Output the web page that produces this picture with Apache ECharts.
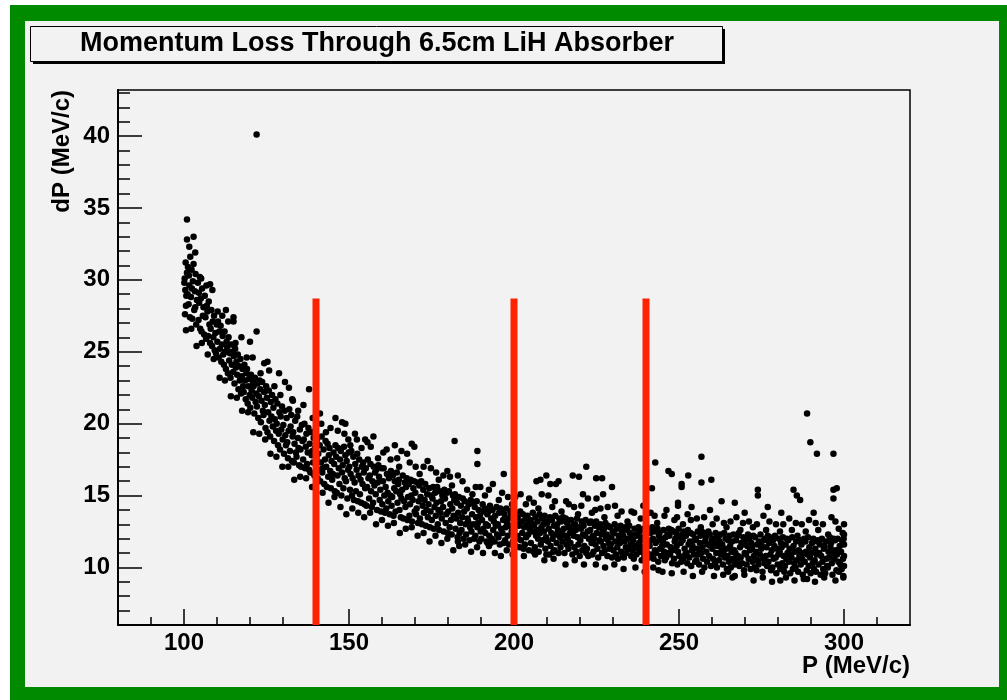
<!DOCTYPE html>
<html>
<head>
<meta charset="utf-8">
<script src="https://cdn.jsdelivr.net/npm/echarts@6/dist/echarts.min.js"></script>
<style>
html,body{margin:0;padding:0;background:#fff;}
#chart{width:1007px;height:700px;}
</style>
</head>
<body>
<div id="chart"></div>
<script>
// ---- data ----
const titleText = 'Momentum Loss Through 6.5cm LiH Absorber';
const xTitle = 'P (MeV/c)';
const yTitle = 'dP (MeV/c)';
const xRange = [80, 320];
const yRange = [6, 43.2];
const xMajorTicks = [100, 150, 200, 250, 300];
const xMinorTicks = [90, 110, 120, 130, 140, 160, 170, 180, 190, 210, 220, 230, 240, 260, 270, 280, 290, 310];
const yMajorTicks = [10, 15, 20, 25, 30, 35, 40];
const yMinorTicks = [7, 8, 9, 11, 12, 13, 14, 16, 17, 18, 19, 21, 22, 23, 24, 26, 27, 28, 29, 31, 32, 33, 34, 36, 37, 38, 39, 41, 42, 43];
const cutValues = [140, 200, 240];
const cutTop = 28.7;

const pts100to140 = [
[100.1,29.8],[100.3,27.6],[100.5,31.2],[100.7,28.9],[100.9,30.5],[100.2,30.1],[100.4,29.3],[100.6,28.2],
[101.2,30.9],[101.4,28.3],[101.6,29.6],[101.8,27.4],[101.9,31.6],[101.1,29.0],[101.5,30.3],
[102.1,28.8],[102.3,30.7],[102.5,27.3],[102.7,29.9],[102.9,31.1],[102.4,29.4],
[103.1,27.9],[103.3,29.2],[103.5,30.4],[103.7,26.9],[103.9,28.6],[103.4,28.1],
[104.2,29.8],[104.4,27.2],[104.6,28.4],[104.8,30.2],[104.9,26.6],[104.5,29.1],
[105.1,28.7],[105.3,26.4],[105.5,29.4],[105.7,27.5],[105.9,28.1],
[106.1,26.2],[106.3,28.9],[106.5,27.4],[106.7,25.9],[106.9,28.2],
[107.1,27.8],[107.3,26.1],[107.5,28.5],[107.7,26.9],[107.9,25.6],
[108.1,26.6],[108.3,27.9],[108.5,25.4],[108.7,27.1],[108.9,26.0],
[109.1,27.5],[109.3,25.1],[109.5,26.3],[109.7,24.9],[109.9,26.9],
[110.1,25.7],[110.3,27.1],[110.5,24.6],[110.7,26.4],[110.9,25.2],
[111.1,26.8],[111.3,24.3],[111.5,25.5],[111.7,26.1],[111.9,24.8],
[112.1,24.1],[112.3,26.4],[112.5,25.0],[112.7,23.8],[112.9,25.7],
[113.1,25.3],[113.3,23.5],[113.5,26.0],[113.7,24.4],[113.9,24.9],
[114.1,23.2],[114.3,25.5],[114.5,24.1],[114.7,25.0],[114.9,23.6],
[115.1,24.7],[115.3,22.8],[115.5,25.2],[115.7,23.9],[115.9,24.3],
[116.1,23.4],[116.3,24.8],[116.5,22.4],[116.7,24.0],[116.9,23.0],
[117.1,24.5],[117.3,22.1],[117.5,23.3],[117.7,23.8],[117.9,22.6],
[118.1,22.2],[118.3,24.1],[118.5,23.0],[118.7,21.7],[118.9,23.5],
[119.1,23.8],[119.3,21.4],[119.5,22.6],[119.7,23.1],[119.9,22.0],
[120.1,21.1],[120.3,23.4],[120.5,22.3],[120.7,21.8],[120.9,22.9],
[121.1,22.6],[121.3,20.7],[121.5,23.2],[121.7,21.5],[121.9,22.1],
[122.1,21.2],[122.3,22.8],[122.5,20.4],[122.7,21.9],[122.9,23.0],
[123.1,22.4],[123.3,20.1],[123.5,21.6],[123.7,22.9],[123.9,20.9],
[124.1,20.6],[124.3,22.2],[124.5,21.3],[124.7,19.7],[124.9,22.6],
[125.1,21.8],[125.3,19.4],[125.5,20.8],[125.7,22.3],[125.9,20.2],
[126.1,19.1],[126.3,21.5],[126.5,20.5],[126.7,22.0],[126.9,19.8],
[127.1,21.1],[127.3,18.8],[127.5,20.3],[127.7,21.7],[127.9,19.5],
[128.1,20.0],[128.3,21.4],[128.5,18.5],[128.7,19.3],[128.9,20.8],
[129.1,18.2],[129.3,20.5],[129.5,19.6],[129.7,21.2],[129.9,18.9],
[130.1,19.9],[130.3,17.9],[130.5,20.9],[130.7,19.2],[130.9,18.5],
[131.1,20.4],[131.3,18.7],[131.5,17.6],[131.7,19.5],[131.9,21.0],
[132.1,18.1],[132.3,19.8],[132.5,20.6],[132.7,17.4],[132.9,19.1],
[133.1,19.4],[133.3,17.3],[133.5,18.6],[133.7,20.2],[133.9,18.0],
[134.1,17.7],[134.3,20.5],[134.5,19.0],[134.7,18.3],[134.9,17.1],
[135.1,19.6],[135.3,18.2],[135.5,17.0],[135.7,19.9],[135.9,18.8],
[136.1,17.5],[136.3,18.9],[136.5,20.0],[136.7,16.9],[136.9,18.4],
[137.1,19.3],[137.3,17.2],[137.5,18.0],[137.7,19.7],[137.9,16.8],
[138.1,18.6],[138.3,16.6],[138.5,19.4],[138.7,17.8],[138.9,18.1],
[139.1,17.3],[139.3,19.0],[139.5,16.4],[139.7,18.3],[139.9,19.6]
];

const pts140to200 = [
[140.1,17.6],[140.3,18.9],[140.5,16.2],[140.7,17.9],[140.9,16.8],
[141.1,18.5],[141.3,16.0],[141.5,17.3],[141.7,19.1],[141.9,16.6],[141.6,20.0],
[142.1,16.9],[142.3,18.2],[142.5,15.8],[142.7,17.5],[142.9,18.8],
[143.1,17.0],[143.3,15.6],[143.5,18.6],[143.7,16.3],[143.9,17.8],
[144.1,18.3],[144.3,16.7],[144.5,15.5],[144.7,17.4],[144.9,16.1],[144.4,19.7],
[145.1,16.5],[145.3,18.0],[145.5,17.2],[145.7,15.3],[145.9,18.5],
[146.1,17.7],[146.3,15.2],[146.5,16.4],[146.7,18.3],[146.9,16.9],
[147.1,15.8],[147.3,17.5],[147.5,18.1],[147.7,15.0],[147.9,16.6],
[148.1,17.1],[148.3,15.5],[148.5,18.4],[148.7,16.2],[148.9,17.8],[148.6,19.3],
[149.1,16.0],[149.3,17.4],[149.5,14.8],[149.7,16.8],[149.9,18.0],
[150.1,17.0],[150.3,15.4],[150.5,16.5],[150.7,18.1],[150.9,15.0],
[151.1,16.2],[151.3,17.7],[151.5,14.7],[151.7,15.9],[151.9,17.2],
[152.1,15.3],[152.3,16.8],[152.5,17.9],[152.7,14.6],[152.9,16.4],[152.4,18.9],
[153.1,17.5],[153.3,15.1],[153.5,16.1],[153.7,14.5],[153.9,17.0],
[154.1,15.8],[154.3,17.3],[154.5,16.6],[154.7,14.4],[154.9,15.5],
[155.1,16.9],[155.3,14.3],[155.5,15.6],[155.7,17.5],[155.9,16.2],
[156.1,14.8],[156.3,16.4],[156.5,17.2],[156.7,15.3],[156.9,14.2],[156.6,18.4],
[157.1,16.0],[157.3,14.5],[157.5,17.0],[157.7,15.7],[157.9,16.6],
[158.1,15.1],[158.3,16.8],[158.5,14.0],[158.7,15.9],[158.9,17.1],
[159.1,16.3],[159.3,14.7],[159.5,15.4],[159.7,13.9],[159.9,16.9],
[160.1,14.4],[160.3,16.0],[160.5,16.9],[160.7,15.0],[160.9,13.8],[160.4,18.0],
[161.1,15.6],[161.3,14.1],[161.5,16.5],[161.7,15.2],[161.9,14.6],
[162.1,16.2],[162.3,13.7],[162.5,15.0],[162.7,16.7],[162.9,14.3],
[163.1,14.9],[163.3,16.4],[163.5,13.6],[163.7,15.5],[163.9,16.0],
[164.1,13.9],[164.3,15.3],[164.5,16.6],[164.7,14.5],[164.9,15.8],[164.6,17.6],
[165.1,16.1],[165.3,14.0],[165.5,15.1],[165.7,13.5],[165.9,14.8],
[166.1,15.4],[166.3,16.4],[166.5,13.4],[166.7,14.6],[166.9,15.9],
[167.1,14.2],[167.3,15.6],[167.5,16.2],[167.7,13.3],[167.9,14.9],
[168.1,15.8],[168.3,13.6],[168.5,14.4],[168.7,16.1],[168.9,15.0],[168.4,17.3],
[169.1,13.2],[169.3,14.7],[169.5,15.5],[169.7,16.0],[169.9,13.9],
[170.1,15.2],[170.3,13.7],[170.5,14.1],[170.7,15.9],[170.9,13.1],
[171.1,14.6],[171.3,15.7],[171.5,13.4],[171.7,14.9],[171.9,16.0],
[172.1,13.0],[172.3,14.3],[172.5,15.4],[172.7,13.8],[172.9,14.7],[172.6,17.0],
[173.1,15.8],[173.3,12.9],[173.5,14.0],[173.7,15.1],[173.9,13.5],
[174.1,14.4],[174.3,15.5],[174.5,12.8],[174.7,13.9],[174.9,15.0],
[175.1,13.3],[175.3,14.8],[175.5,15.6],[175.7,12.7],[175.9,14.2],
[176.1,15.2],[176.3,13.6],[176.5,14.5],[176.7,15.6],[176.9,13.0],[176.4,16.6],
[177.1,14.0],[177.3,12.6],[177.5,15.3],[177.7,13.8],[177.9,14.6],
[178.1,13.4],[178.3,15.0],[178.5,14.2],[178.7,12.5],[178.9,15.4],
[179.1,14.8],[179.3,13.1],[179.5,13.7],[179.7,15.2],[179.9,12.4],
[180.1,13.9],[180.3,15.3],[180.5,12.8],[180.7,14.4],[180.9,13.3],[180.6,16.3],
[181.1,12.3],[181.3,14.1],[181.5,15.0],[181.7,13.6],[181.9,14.7],
[182.1,15.1],[182.3,12.7],[182.5,13.4],[182.7,14.5],[182.9,12.1],
[183.1,13.8],[183.3,14.9],[183.5,12.4],[183.7,13.1],[183.9,14.3],
[184.1,12.6],[184.3,13.5],[184.5,14.8],[184.7,12.0],[184.9,13.9],[184.4,16.0],
[185.1,14.6],[185.3,13.0],[185.5,12.3],[185.7,14.1],[185.9,13.4],
[186.1,13.2],[186.3,14.4],[186.5,11.9],[186.7,12.8],[186.9,14.7],
[187.1,12.5],[187.3,13.7],[187.5,14.5],[187.7,13.0],[187.9,12.0],
[188.1,14.2],[188.3,12.2],[188.5,13.5],[188.7,14.6],[188.9,12.8],[188.4,15.6],
[189.1,13.1],[189.3,14.0],[189.5,11.8],[189.7,13.6],[189.9,12.5],
[190.1,12.0],[190.3,13.3],[190.5,14.4],[190.7,12.7],[190.9,13.9],
[191.1,14.1],[191.3,12.4],[191.5,13.0],[191.7,11.8],[191.9,13.7],
[192.1,12.9],[192.3,13.9],[192.5,12.2],[192.7,14.3],[192.9,11.7],[192.4,15.4],
[193.1,13.4],[193.3,12.0],[193.5,14.0],[193.7,12.6],[193.9,13.2],
[194.1,11.8],[194.3,13.6],[194.5,12.9],[194.7,14.2],[194.9,12.3],
[195.1,13.0],[195.3,12.1],[195.5,13.8],[195.7,11.6],[195.9,14.1],
[196.1,12.7],[196.3,14.0],[196.5,12.4],[196.7,13.3],[196.9,11.7],[196.4,15.2],
[197.1,13.7],[197.3,11.9],[197.5,12.8],[197.7,14.1],[197.9,13.1],
[198.1,12.2],[198.3,13.4],[198.5,11.6],[198.7,12.9],[198.9,13.9],
[199.1,13.6],[199.3,12.5],[199.5,14.0],[199.7,11.8],[199.9,13.0]
];

const pts200to250 = [
[200.1,12.6],[200.3,13.8],[200.5,11.5],[200.7,13.1],[200.9,12.2],[200.4,14.9],
[201.1,13.5],[201.3,12.0],[201.5,12.9],[201.7,11.4],[201.9,13.9],
[202.1,11.9],[202.3,13.2],[202.5,12.4],[202.7,13.7],[202.9,11.3],
[203.1,12.8],[203.3,11.6],[203.5,13.4],[203.7,12.1],[203.9,13.0],
[204.1,13.6],[204.3,12.3],[204.5,11.2],[204.7,12.7],[204.9,13.3],[204.6,14.8],
[205.1,11.7],[205.3,13.1],[205.5,12.5],[205.7,13.8],[205.9,11.1],
[206.1,12.9],[206.3,11.4],[206.5,13.5],[206.7,12.2],[206.9,12.6],
[207.1,13.2],[207.3,12.0],[207.5,11.1],[207.7,13.7],[207.9,12.4],
[208.1,11.6],[208.3,12.8],[208.5,13.4],[208.7,11.9],[208.9,13.0],[208.4,15.1],
[209.1,12.5],[209.3,13.6],[209.5,11.3],[209.7,12.1],[209.9,13.2],
[210.1,13.1],[210.3,11.8],[210.5,12.7],[210.7,10.9],[210.9,13.5],
[211.1,11.5],[211.3,12.4],[211.5,13.3],[211.7,12.0],[211.9,11.1],
[212.1,12.9],[212.3,11.2],[212.5,13.6],[212.7,12.3],[212.9,11.7],[212.4,14.6],
[213.1,13.0],[213.3,12.6],[213.5,11.0],[213.7,13.4],[213.9,12.1],
[214.1,11.4],[214.3,13.2],[214.5,12.4],[214.7,11.8],[214.9,13.5],
[215.1,12.7],[215.3,11.0],[215.5,12.2],[215.7,13.4],[215.9,11.6],
[216.1,13.1],[216.3,12.0],[216.5,11.3],[216.7,12.8],[216.9,12.4],[216.6,14.4],
[217.1,11.7],[217.3,13.3],[217.5,12.5],[217.7,10.9],[217.9,12.9],
[218.1,12.2],[218.3,11.4],[218.5,13.0],[218.7,12.6],[218.9,11.1],
[219.1,13.4],[219.3,12.1],[219.5,11.6],[219.7,12.8],[219.9,10.8],
[220.1,11.9],[220.3,12.7],[220.5,13.2],[220.7,11.2],[220.9,12.3],[220.4,14.3],
[221.1,12.9],[221.3,11.5],[221.5,12.2],[221.7,13.3],[221.9,11.0],
[222.1,11.3],[222.3,12.5],[222.5,10.8],[222.7,12.0],[222.9,13.1],
[223.1,12.6],[223.3,13.2],[223.5,11.7],[223.7,10.9],[223.9,12.2],
[224.1,11.1],[224.3,12.0],[224.5,12.9],[224.7,11.6],[224.9,13.2],[224.6,14.0],
[225.1,12.4],[225.3,11.3],[225.5,10.7],[225.7,12.8],[225.9,11.9],
[226.1,13.0],[226.3,11.8],[226.5,12.3],[226.7,11.0],[226.9,12.6],
[227.1,11.5],[227.3,12.7],[227.5,11.2],[227.7,13.1],[227.9,12.0],
[228.1,12.3],[228.3,10.8],[228.5,12.9],[228.7,11.7],[228.9,11.3],[228.4,14.2],
[229.1,12.8],[229.3,11.6],[229.5,12.1],[229.7,10.7],[229.9,12.5],
[230.1,11.2],[230.3,12.4],[230.5,13.0],[230.7,11.8],[230.9,10.9],
[231.1,12.7],[231.3,11.4],[231.5,10.6],[231.7,12.2],[231.9,11.9],
[232.1,11.7],[232.3,12.9],[232.5,11.1],[232.7,12.5],[232.9,10.8],[232.6,13.9],
[233.1,12.2],[233.3,10.7],[233.5,11.8],[233.7,12.8],[233.9,11.4],
[234.1,11.0],[234.3,12.6],[234.5,12.0],[234.7,11.3],[234.9,12.9],
[235.1,12.4],[235.3,11.6],[235.5,10.8],[235.7,12.1],[235.9,11.2],
[236.1,11.9],[236.3,10.6],[236.5,12.7],[236.7,11.5],[236.9,12.3],[236.4,13.8],
[237.1,10.9],[237.3,12.2],[237.5,11.3],[237.7,12.8],[237.9,11.7],
[238.1,12.5],[238.3,11.1],[238.5,11.9],[238.7,10.5],[238.9,12.1],
[239.1,11.4],[239.3,12.7],[239.5,10.8],[239.7,12.0],[239.9,11.6],
[240.1,12.3],[240.3,11.0],[240.5,11.8],[240.7,12.6],[240.9,10.7],
[241.1,11.5],[241.3,12.4],[241.5,10.9],[241.7,11.9],[241.9,12.8],[241.4,13.8],
[242.1,12.0],[242.3,10.6],[242.5,12.5],[242.7,11.2],[242.9,11.7],
[243.1,11.0],[243.3,11.8],[243.5,12.7],[243.7,10.4],[243.9,12.2],
[244.1,12.4],[244.3,11.3],[244.5,10.8],[244.7,12.0],[244.9,11.5],
[245.1,11.8],[245.3,12.6],[245.5,11.1],[245.7,10.5],[245.9,12.1],[245.6,13.6],
[246.1,10.7],[246.3,11.6],[246.5,12.3],[246.7,11.0],[246.9,12.7],
[247.1,12.2],[247.3,10.9],[247.5,11.4],[247.7,12.6],[247.9,10.3],
[248.1,11.2],[248.3,12.5],[248.5,10.6],[248.7,11.8],[248.9,12.0],
[249.1,12.4],[249.3,11.5],[249.5,10.2],[249.7,11.1],[249.9,12.7],[249.4,13.5]
];

const pts250to300 = [
[250.1,10.8],[250.3,12.1],[250.5,11.7],[250.7,10.4],[250.9,12.3],
[251.1,11.9],[251.3,10.6],[251.5,12.5],[251.7,11.3],[251.9,10.9],
[252.1,12.2],[252.3,11.0],[252.5,10.3],[252.7,12.6],[252.9,11.6],
[253.1,10.7],[253.3,11.8],[253.5,12.4],[253.7,10.1],[253.9,11.2],[253.6,13.3],
[254.1,11.5],[254.3,12.3],[254.5,10.9],[254.7,11.9],[254.9,10.4],
[255.1,12.0],[255.3,10.5],[255.5,11.3],[255.7,12.5],[255.9,10.9],
[256.1,10.2],[256.3,11.7],[256.5,12.2],[256.7,11.0],[256.9,12.5],
[257.1,11.4],[257.3,10.6],[257.5,12.4],[257.7,10.0],[257.9,11.8],[257.6,13.5],
[258.1,12.1],[258.3,11.1],[258.5,10.4],[258.7,11.6],[258.9,12.5],
[259.1,10.8],[259.3,12.3],[259.5,11.5],[259.7,10.1],[259.9,11.9],
[260.1,11.3],[260.3,10.6],[260.5,12.0],[260.7,11.7],[260.9,10.3],
[261.1,12.4],[261.3,11.0],[261.5,10.0],[261.7,11.5],[261.9,12.1],[261.4,13.4],
[262.1,10.5],[262.3,11.8],[262.5,12.3],[262.7,10.9],[262.9,11.2],
[263.1,11.6],[263.3,10.2],[263.5,11.1],[263.7,12.4],[263.9,10.7],
[264.1,12.0],[264.3,11.3],[264.5,9.9],[264.7,10.8],[264.9,11.9],
[265.1,10.4],[265.3,12.2],[265.5,11.5],[265.7,10.0],[265.9,11.1],[265.6,13.2],
[266.1,11.8],[266.3,10.6],[266.5,12.3],[266.7,11.2],[266.9,10.2],
[267.1,11.0],[267.3,11.9],[267.5,10.5],[267.7,12.2],[267.9,10.8],
[268.1,12.4],[268.3,10.1],[268.5,11.4],[268.7,10.7],[268.9,11.7],
[269.1,10.3],[269.3,11.6],[269.5,12.1],[269.7,9.8],[269.9,11.0],[269.4,13.1],
[270.1,11.9],[270.3,10.9],[270.5,10.2],[270.7,11.5],[270.9,12.3],
[271.1,10.6],[271.3,12.0],[271.5,11.2],[271.7,9.9],[271.9,11.7],
[272.1,11.4],[272.3,10.4],[272.5,12.2],[272.7,10.8],[272.9,10.0],
[273.1,12.1],[273.3,11.1],[273.5,9.8],[273.7,11.6],[273.9,10.5],[273.6,13.0],
[274.1,10.2],[274.3,11.8],[274.5,10.9],[274.7,12.3],[274.9,11.3],
[275.1,11.5],[275.3,9.7],[275.5,10.6],[275.7,11.9],[275.9,10.3],
[276.1,12.0],[276.3,10.8],[276.5,11.4],[276.7,10.1],[276.9,12.2],
[277.1,10.4],[277.3,11.7],[277.5,12.1],[277.7,10.9],[277.9,9.8],[277.4,13.2],
[278.1,11.2],[278.3,10.0],[278.5,11.9],[278.7,10.6],[278.9,11.5],
[279.1,12.2],[279.3,10.7],[279.5,9.6],[279.7,11.3],[279.9,10.2],
[280.1,10.9],[280.3,12.0],[280.5,11.1],[280.7,9.9],[280.9,11.7],
[281.1,11.4],[281.3,10.3],[281.5,12.1],[281.7,10.8],[281.9,9.7],[281.6,13.0],
[282.1,10.1],[282.3,11.6],[282.5,10.6],[282.7,12.0],[282.9,11.0],
[283.1,11.9],[283.3,10.4],[283.5,11.3],[283.7,9.6],[283.9,10.9],
[284.1,10.7],[284.3,12.1],[284.5,9.9],[284.7,11.5],[284.9,10.3],
[285.1,11.1],[285.3,10.0],[285.5,11.8],[285.7,10.5],[285.9,12.2],[285.4,13.1],
[286.1,9.7],[286.3,11.2],[286.5,10.8],[286.7,11.9],[286.9,10.2],
[287.1,11.6],[287.3,10.6],[287.5,9.5],[287.7,11.0],[287.9,12.0],
[288.1,10.4],[288.3,11.8],[288.5,11.1],[288.7,9.8],[288.9,10.9],
[289.1,12.1],[289.3,10.1],[289.5,11.4],[289.7,10.7],[289.9,9.6],[289.4,13.3],
[290.1,11.0],[290.3,11.7],[290.5,10.3],[290.7,12.0],[290.9,9.9],
[291.1,10.5],[291.3,11.3],[291.5,9.7],[291.7,10.9],[291.9,11.8],
[292.1,11.9],[292.3,10.2],[292.5,11.0],[292.7,11.6],[292.9,9.5],
[293.1,10.8],[293.3,12.0],[293.5,10.4],[293.7,9.9],[293.9,11.3],[293.6,13.0],
[294.1,11.5],[294.3,9.6],[294.5,11.8],[294.7,10.6],[294.9,10.1],
[295.1,10.0],[295.3,11.1],[295.5,10.7],[295.7,12.1],[295.9,11.4],
[296.1,11.7],[296.3,10.3],[296.5,9.5],[296.7,11.0],[296.9,12.0],
[297.1,10.6],[297.3,11.9],[297.5,11.2],[297.7,9.8],[297.9,10.9],[297.4,13.2],
[298.1,12.0],[298.3,10.4],[298.5,9.7],[298.7,11.5],[298.9,10.2],
[299.1,11.1],[299.3,9.9],[299.5,11.8],[299.7,10.6],[299.9,12.0],[299.8,9.4],
[300.0,10.8],[300.0,11.6],[300.0,10.1],[300.0,12.3]
];

const fringeLow = [
[100.6,26.5],[102.2,26.6],[103.8,25.4],[105.4,25.6],[107.2,24.8],[109.0,24.5],[110.8,23.2],[112.4,23.0],
[114.2,21.9],[116.0,21.8],[117.6,20.9],[119.4,20.8],[121.0,19.4],[122.8,19.3],[124.6,18.9],[126.2,17.9],
[128.0,17.7],[129.8,17.0],[131.6,17.0],[133.4,16.1],[135.2,16.3],[137.0,16.2],[138.8,15.6],[142.0,15.2],
[143.8,14.5],[145.6,14.9],[147.4,14.2],[149.2,13.7],[151.0,14.1],[152.8,13.8],[154.6,13.5],[156.4,13.8],
[158.2,13.0],[160.0,13.3],[161.8,12.9],[163.6,13.1],[165.4,12.4],[167.2,12.7],[169.0,12.8],[170.8,12.2],
[172.6,12.4],[174.4,11.8],[176.2,12.2],[178.0,11.7],[179.8,12.0],[181.6,11.2],[183.4,11.5],[185.2,11.6],
[187.0,11.1],[188.8,11.4],[190.6,11.0],[192.4,11.5],[194.2,11.0],[196.0,10.8],[197.8,11.2],[199.6,10.9],
[203.0,10.8],[206.4,10.9],[209.2,10.5],[212.0,10.6],[215.6,10.2],[218.4,10.5],[221.2,10.2],[224.8,10.2],
[227.6,10.0],[230.4,10.2],[233.2,9.9],[236.8,10.0],[239.6,9.7],[242.2,10.0],[245.0,9.7],[247.8,9.6],
[251.4,9.7],[254.2,9.4],[257.0,9.7],[260.6,9.4],[263.4,9.5],[266.2,9.3],[269.8,9.5],[272.6,9.1],
[275.4,9.3],[278.2,9.0],[282.4,9.3],[285.0,9.1],[287.8,9.2],[291.2,9.0],[294.0,9.3],[297.4,9.1]
];

const fringeHigh = [
[101.6,32.3],[103.4,31.9],[105.2,30.1],[106.8,29.6],[108.6,29.3],[110.2,27.8],[111.6,27.5],[113.4,27.1],
[115.6,25.6],[117.4,26.0],[119.0,24.6],[120.8,24.6],[123.2,23.5],[125.8,23.7],[127.4,22.6],[129.2,22.0],
[130.6,22.9],[133.0,21.6],[134.6,20.9],[136.2,21.3],[139.0,20.4],[141.2,20.7],[143.0,19.4],[146.6,19.5],
[150.4,18.5],[151.8,19.3],[153.8,18.3],[155.6,18.7],[158.8,17.6],[161.4,18.2],[162.6,17.5],[165.2,17.0],
[167.6,17.9],[170.2,17.0],[171.4,16.5],[174.8,16.9],[177.2,16.1],[178.6,16.4],[181.2,15.7],[183.0,16.4],
[185.8,15.4],[187.4,15.1],[189.8,15.6],[191.2,15.0],[193.6,15.8],[195.4,14.7],[198.2,14.9],[199.4,14.4],
[202.0,15.1],[203.6,14.4],[206.0,14.5],[207.4,14.1],[210.4,15.0],[211.6,14.2],[214.4,13.9],[215.8,14.6],
[218.2,14.2],[219.4,13.7],[222.4,14.8],[223.6,13.8],[226.2,14.1],[227.4,13.5],[230.6,14.3],[231.4,13.6],
[234.4,13.2],[235.6,13.9],[238.4,13.4],[239.2,14.3],[242.6,13.6],[243.4,13.1],[246.2,14.0],[248.6,13.3],
[251.2,13.0],[252.6,13.7],[255.4,13.4],[256.6,12.8],[259.4,14.0],[260.2,13.0],[263.6,13.1],[264.4,12.8],
[267.4,13.5],[268.6,12.6],[271.2,13.2],[272.4,12.8],[275.6,13.6],[276.4,12.6],[279.4,13.0],[280.6,12.5],
[283.4,13.4],[284.2,12.6],[287.2,13.0],[288.4,12.5],[291.4,13.1],[292.2,12.6],[295.2,12.3],[296.2,13.5],
[298.4,12.7],[299.6,12.4],[300.0,13.0]
];

const outliers = [
[122.0,40.1],[100.9,34.2],[102.9,33.0],[100.9,32.8],[107.9,29.7],[112.7,27.9],[115.0,27.4],[115.0,27.1],
[120.0,25.7],[122.0,26.4],[124.3,24.2],[125.3,24.3],[128.8,23.5],[131.8,22.5],[132.8,21.7],[137.9,22.4],
[145.9,20.4],[147.9,20.1],[148.9,20.0],[149.8,18.9],[154.9,18.9],[157.4,19.1],[163.9,18.5],[165.9,18.1],
[169.0,18.6],[169.8,18.4],[173.8,17.4],[179.8,16.7],[182.0,18.8],[188.9,18.1],[188.9,17.2],[196.9,16.5],
[206.8,16.0],[208.0,16.1],[209.8,16.4],[211.0,15.8],[212.7,15.8],[213.5,16.0],[217.8,16.4],
[219.7,16.3],[220.9,15.1],[221.9,17.0],[224.9,16.2],[225.0,14.8],[226.7,16.2],[227.0,15.1],[229.7,15.6],
[241.8,15.5],[242.8,17.3],[246.8,16.7],[247.8,16.5],[249.7,14.5],[249.7,14.3],[250.8,15.8],[250.8,15.6],
[252.8,16.4],[253.8,14.2],[256.8,17.7],[256.8,15.9],[259.8,16.1],[262.9,14.6],[266.9,14.5],[269.9,13.8],
[273.9,15.4],[273.9,15.0],[276.9,14.2],[281.0,13.8],[284.7,15.4],[285.7,15.0],[286.7,14.7],[288.8,20.7],
[289.8,18.7],[291.8,17.9],[296.8,17.9],[296.8,15.4],[297.8,15.5],[296.8,14.8],[290.8,13.8],
[280.7,9.1],[288.8,9.2],[299.8,9.3],[243.8,9.8],[266.9,9.4],[264.9,9.7],[209.8,10.9],[192.0,11.7],[183.0,11.8]
];

// ---- chart ----
const allPoints = pts100to140.concat(pts140to200, pts200to250, pts250to300, fringeLow, fringeHigh, outliers);
const FONT = '"Liberation Sans", Arial, Helvetica, sans-serif';
const chart = echarts.init(document.getElementById('chart'), null, {renderer: 'canvas'});

const cutSeries = cutValues.map(function (v) {
  return {
    type: 'line', xAxisIndex: 0, yAxisIndex: 0,
    data: [[v, yRange[0]], [v, cutTop]],
    symbol: 'none', silent: true, z: 10,
    lineStyle: {color: '#ff2200', width: 7, cap: 'butt'}
  };
});

chart.setOption({
  animation: false,
  backgroundColor: '#ffffff',
  graphic: [
    {type: 'rect', shape: {x: 10, y: 5, width: 997, height: 695}, style: {fill: '#008a00'}, z: -10},
    {type: 'rect', shape: {x: 25, y: 21, width: 974, height: 666}, style: {fill: '#f2f2f2'}, z: -9},
    {type: 'rect', shape: {x: 33, y: 29, width: 692, height: 35}, style: {fill: '#000000'}, z: -8},
    {type: 'rect', shape: {x: 30.5, y: 26.5, width: 692, height: 35}, style: {fill: '#f2f2f2', stroke: '#000', lineWidth: 1}, z: -7},
    {type: 'text', x: 80, y: 44, z: 5, style: {text: titleText, font: 'bold 27px ' + FONT, fill: '#000', textAlign: 'left', textVerticalAlign: 'middle'}},
    {type: 'text', x: 910, y: 666, z: 5, style: {text: xTitle, font: 'bold 24px ' + FONT, fill: '#000', textAlign: 'right', textVerticalAlign: 'middle'}},
    {type: 'text', x: 62, y: 90, rotation: Math.PI / 2, z: 5, style: {text: yTitle, font: 'bold 24px ' + FONT, fill: '#000', textAlign: 'right', textVerticalAlign: 'middle'}}
  ],
  grid: {left: 118, top: 90, right: 97, bottom: 75, show: true, borderColor: '#000', borderWidth: 1.5, backgroundColor: 'transparent'},
  xAxis: [
    {
      type: 'value', min: xRange[0], max: xRange[1],
      axisLine: {show: true, onZero: false, lineStyle: {color: '#000', width: 2}},
      axisTick: {show: true, inside: true, length: 16, customValues: xMajorTicks, lineStyle: {color: '#000', width: 1.5}},
      axisLabel: {show: true, customValues: xMajorTicks, margin: 6, color: '#000', fontSize: 24, fontWeight: 'bold', fontFamily: FONT},
      splitLine: {show: false}
    },
    {
      type: 'value', min: xRange[0], max: xRange[1], position: 'bottom',
      axisLine: {show: false},
      axisTick: {show: true, inside: true, length: 8, customValues: xMinorTicks, lineStyle: {color: '#000', width: 1.5}},
      axisLabel: {show: false},
      splitLine: {show: false}
    }
  ],
  yAxis: [
    {
      type: 'value', min: yRange[0], max: yRange[1],
      axisLine: {show: true, onZero: false, lineStyle: {color: '#000', width: 2}},
      axisTick: {show: true, inside: true, length: 24, customValues: yMajorTicks, lineStyle: {color: '#000', width: 1.5}},
      axisLabel: {show: true, customValues: yMajorTicks, margin: 8, color: '#000', fontSize: 24, fontWeight: 'bold', fontFamily: FONT},
      splitLine: {show: false}
    },
    {
      type: 'value', min: yRange[0], max: yRange[1], position: 'left',
      axisLine: {show: false},
      axisTick: {show: true, inside: true, length: 12, customValues: yMinorTicks, lineStyle: {color: '#000', width: 1.5}},
      axisLabel: {show: false},
      splitLine: {show: false}
    }
  ],
  series: [
    {
      type: 'scatter', xAxisIndex: 0, yAxisIndex: 0,
      data: allPoints, symbol: 'circle', symbolSize: 6.5,
      itemStyle: {color: '#000', opacity: 1}, silent: true, large: false, z: 3
    }
  ].concat(cutSeries)
});
</script>
</body>
</html>
